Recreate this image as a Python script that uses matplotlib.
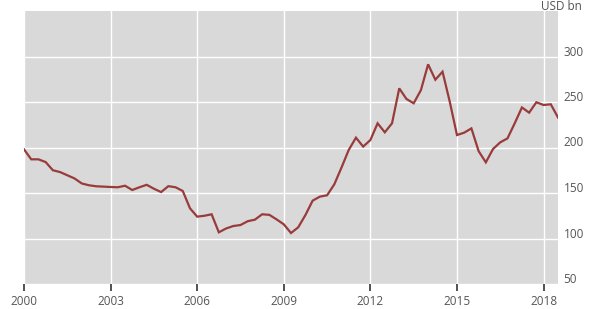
import matplotlib
matplotlib.use("Agg")
import matplotlib.pyplot as plt
import matplotlib.transforms as mtrans
import numpy as np

years = np.arange(2000.0, 2018.51, 0.25)
values = [198, 187, 187, 184, 175, 173, 169.5, 166, 160.5, 158.5, 157.4, 157,
          156.6, 156.3, 158, 153.3, 156.3, 159, 154.7, 151, 157.5, 156.3, 152.2, 133.2,
          124, 125, 126.6, 106.8, 111, 113.7, 114.8, 119, 120.7, 126.6, 126, 121,
          115.6, 106, 112.3, 125.8, 141.6, 146, 147.5, 159.5, 178, 197.3, 210.8, 201,
          208.2, 226.6, 216.7, 226.6, 265, 253.3, 248.6, 263, 291.4, 274.5, 283.3, 250.3,
          213.7, 216.3, 221, 196, 183.7, 198.4, 205.7, 210, 226.6, 244, 238.3, 249.7,
          246.7, 247.5, 233]
xticks = [2000, 2003, 2006, 2009, 2012, 2015, 2018]
yticks = [50, 100, 150, 200, 250, 300]
unit_label = "USD bn"

plt.rcParams['font.family'] = ['Open Sans', 'DejaVu Sans']

fig = plt.figure(figsize=(5.97, 3.09), dpi=100)
W, H = 597, 309
ax = fig.add_axes([24 / W, (H - 284) / H, (558 - 24) / W, (284 - 11) / H])
ax.set_facecolor('#d9d9d9')
ax.plot(years, values, color='#993b3b', lw=1.6, solid_joinstyle='miter', zorder=3)

ax.set_xlim(2000, 2018.5)
ax.set_ylim(50, 350)
ax.set_xticks(xticks)
ax.set_yticks(yticks)
ax.grid(True, color='white', lw=1.0, zorder=1)
ax.set_axisbelow(True)
for s in ax.spines.values():
    s.set_visible(False)

ax.yaxis.tick_right()
ax.tick_params(axis='y', length=0, pad=4, labelsize=8.5, labelcolor='#555555')
ax.tick_params(axis='x', length=5, width=1.1, color='#222222', pad=3,
               labelsize=8.5, labelcolor='#555555')
off = mtrans.ScaledTranslation(0, 6 / 100, fig.dpi_scale_trans)
for lab in ax.get_yticklabels():
    lab.set_transform(lab.get_transform() + off)

fig.text(582 / W, 1 - 0.5 / H, unit_label, ha='right', va='top',
         fontsize=8.5, color='#555555')

fig.savefig('out.png', dpi=100, facecolor='white')
